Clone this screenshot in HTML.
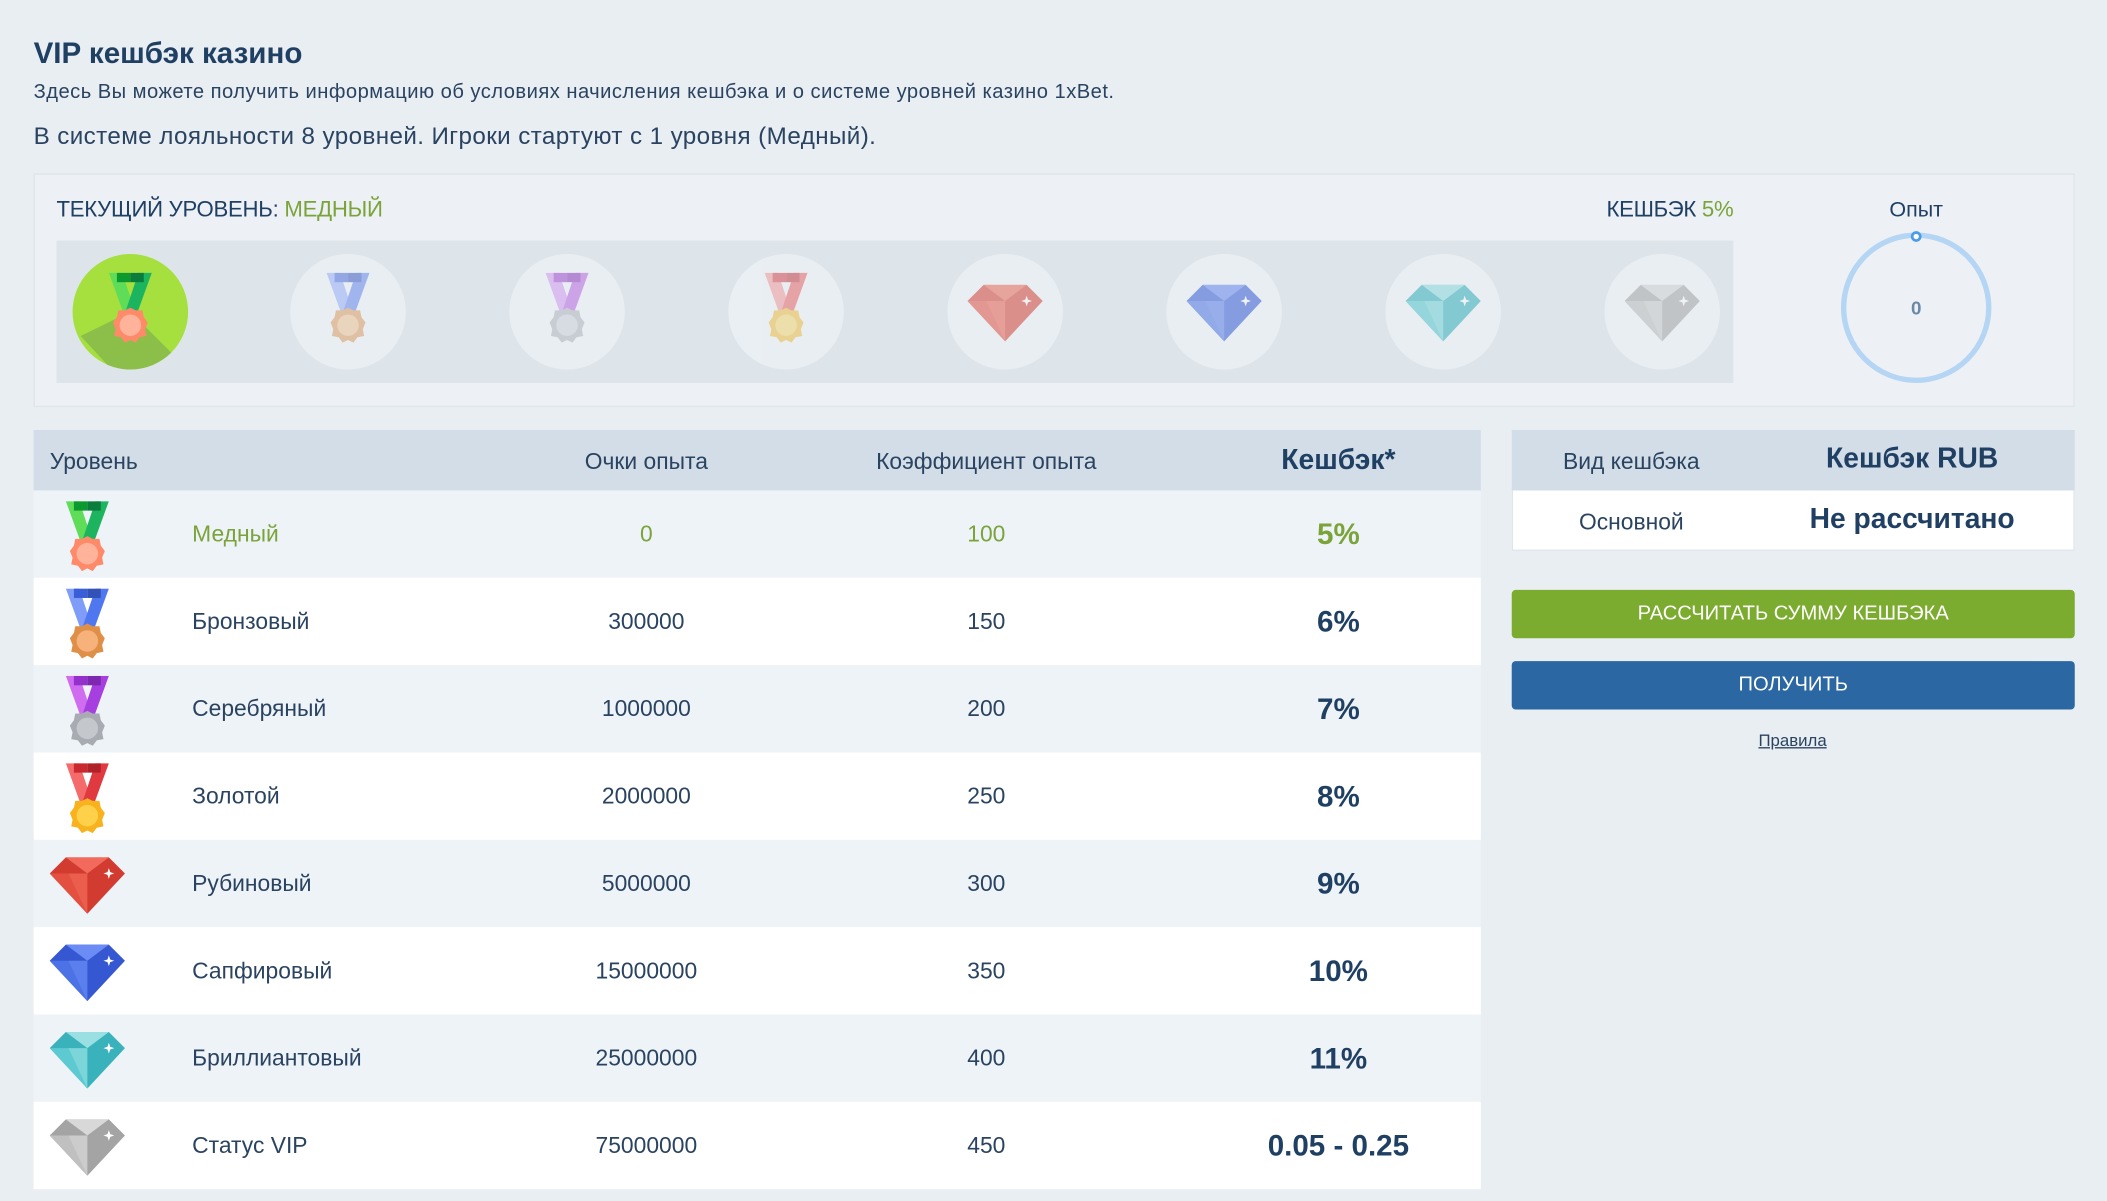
<!DOCTYPE html>
<html><head><meta charset="utf-8">
<style>
html,body{margin:0;padding:0;background:#e9eef3;}
body{width:2107px;height:1201px;overflow:hidden;}
#w{position:absolute;left:0;top:0;width:1568px;height:894px;transform:scale(1.34375);transform-origin:0 0;font-family:"Liberation Sans",sans-serif;color:#2a4360;}
.a{position:absolute;white-space:nowrap;}
.c{transform:translateX(-50%);}
.row{position:absolute;left:25px;width:1077px;height:65px;}
.row .a{top:50%;transform:translate(-50%,-50%);font-size:17px;}
.row .n{transform:translateY(-50%);}
.row .k{font-weight:bold;font-size:22px;color:#1f3f63;}
.ic{position:absolute;}
</style></head><body>
<svg width="0" height="0" style="position:absolute">
<symbol id="medal" viewBox="0 0 40 52">
<polygon points="4,0 14,0 24,30 16,33" fill="var(--r1)"/>
<polygon points="36,0 26,0 16,30 24,33" fill="var(--r2)"/>
<rect x="10" y="0" width="10" height="7" fill="var(--r3)"/><rect x="20" y="0" width="10" height="7" fill="var(--r4)"/>
<polygon points="20,26 24,28 29,28 30,33 33,37 31,42 32,47 27,48 24,52 20,50 16,52 13,48 8,47 9,42 7,37 10,33 11,28 16,28" fill="var(--m1)"/>
<circle cx="20" cy="39" r="8" fill="var(--m2)"/>
</symbol>
<symbol id="gem" viewBox="0 0 56 44">
<polygon points="0,14 12,2 44,2 56,14 28,44" fill="var(--g1)"/>
<polygon points="12,2 28,14 44,2" fill="var(--g2)"/>
<polygon points="0,14 28,14 28,44" fill="var(--g3)"/>
<polygon points="14,14 28,14 28,44" fill="var(--g2)" opacity=".5"/>
<path d="M44,10 l1,3 3,1 -3,1 -1,3 -1,-3 -3,-1 3,-1z" fill="#fff"/>
</symbol>
</svg>
<div id="w">
<div class="a" style="left:25px;top:27px;font-size:22px;font-weight:bold;color:#1f3f63;">VIP кешбэк казино</div>
<div class="a" style="left:25px;top:60px;font-size:15px;letter-spacing:0.35px;">Здесь Вы можете получить информацию об условиях начисления кешбэка и о системе уровней казино 1xBet.</div>
<div class="a" style="left:25px;top:91px;font-size:18px;letter-spacing:0.3px;">В системе лояльности 8 уровней. Игроки стартуют с 1 уровня (Медный).</div>

<div class="a" style="left:25px;top:129px;width:1517px;height:172px;background:#edf1f5;border:1px solid #dfe5ea;"></div>
<div class="a" style="left:42px;top:147px;font-size:16.5px;letter-spacing:-0.2px;color:#1f3f63;">ТЕКУЩИЙ УРОВЕНЬ: <span style="color:#7aa33a">МЕДНЫЙ</span></div>
<div class="a" style="right:278px;top:147px;font-size:16.5px;letter-spacing:-0.2px;color:#1f3f63;">КЕШБЭК <span style="color:#7aa33a">5%</span></div>
<div class="a" style="left:42px;top:179px;width:1248px;height:106px;background:#dde4ea;"></div>
<svg class="a" style="left:42px;top:179px" width="1248" height="106" viewBox="42 179 1248 106">
<defs><clipPath id="c1"><circle cx="97" cy="232" r="43"/></clipPath></defs>
<circle cx="97" cy="232" r="43" fill="#a6e03f"/>
<polygon points="97,232 140,275 97,290 60,250" fill="#8cbe4a" clip-path="url(#c1)"/>
<use href="#medal" x="77" y="203" width="40" height="52" style="--r1:#5fdc58;--r2:#1db45f;--r3:#0c9a2e;--r4:#0a7c3c;--m1:#ff8a6a;--m2:#ffb39a"/>
<g opacity="0.55">
<circle cx="259" cy="232" r="43" fill="#f4f7fa"/>
<use href="#medal" x="239" y="203" width="40" height="52" style="--r1:#9fb6ff;--r2:#6f8ff0;--r3:#5876e0;--r4:#4964c9;--m1:#e3a46a;--m2:#f4c79b"/>
<circle cx="422" cy="232" r="43" fill="#f4f7fa"/>
<use href="#medal" x="402" y="203" width="40" height="52" style="--r1:#d9a0f4;--r2:#c06ee8;--r3:#a850d6;--r4:#9442c0;--m1:#b8bcc2;--m2:#d2d6da"/>
<circle cx="585" cy="232" r="43" fill="#f4f7fa"/>
<use href="#medal" x="565" y="203" width="40" height="52" style="--r1:#f7a0a0;--r2:#ee6e70;--r3:#d94f55;--r4:#c8474c;--m1:#f4c44a;--m2:#fadb7a"/>
<circle cx="748" cy="232" r="43" fill="#f4f7fa"/>
<use href="#gem" x="720" y="210" width="56" height="44" style="--g1:#d84a3e;--g2:#f07060;--g3:#e85a4c"/>
<circle cx="911" cy="232" r="43" fill="#f4f7fa"/>
<use href="#gem" x="883" y="210" width="56" height="44" style="--g1:#3f63d8;--g2:#6d8cf2;--g3:#557be6"/>
<circle cx="1074" cy="232" r="43" fill="#f4f7fa"/>
<use href="#gem" x="1046" y="210" width="56" height="44" style="--g1:#3bb4bf;--g2:#8fdde0;--g3:#5ccbd1"/>
<circle cx="1237" cy="232" r="43" fill="#f4f7fa"/>
<use href="#gem" x="1209" y="210" width="56" height="44" style="--g1:#aaaaaa;--g2:#d6d6d6;--g3:#c0c0c0"/>
</g>
</svg>
<div class="a c" style="left:1426px;top:148px;font-size:16px;color:#1f3f63;">Опыт</div>
<svg class="a" style="left:1366px;top:170px" width="120" height="120"><circle cx="60" cy="59" r="54" fill="none" stroke="#b4d5f4" stroke-width="4"/><circle cx="60" cy="6" r="3" fill="#fff" stroke="#4a9be8" stroke-width="2"/></svg>
<div class="a c" style="left:1426px;top:221px;font-size:14px;font-weight:bold;color:#6a88a8;">0</div>

<div class="a" style="left:25px;top:320px;width:1077px;height:565px;background:#fff;border:1px solid #dfe5ea;box-sizing:border-box;"></div>
<div class="a" style="left:25px;top:320px;width:1077px;height:45px;background:#d3dde8;"></div>
<div class="a" style="left:37px;top:334px;font-size:17px;">Уровень</div>
<div class="a c" style="left:481px;top:334px;font-size:17px;">Очки опыта</div>
<div class="a c" style="left:734px;top:334px;font-size:17px;">Коэффициент опыта</div>
<div class="a c" style="left:996px;top:331px;font-size:21px;font-weight:bold;color:#1f3f63;">Кешбэк*</div>

<div class="row" style="top:365px;background:#eef3f8"><svg class="ic" style="left:20px;top:8px" width="40" height="52"><use href="#medal" width="40" height="52" style="--r1:#5fdc58;--r2:#1db45f;--r3:#0c9a2e;--r4:#0a7c3c;--m1:#ff8a6a;--m2:#ffb39a"/></svg><div class="a n" style="left:118px;color:#7aa33a">Медный</div><div class="a" style="left:456px;color:#7aa33a">0</div><div class="a" style="left:709px;color:#7aa33a">100</div><div class="a k" style="left:971px;color:#7aa33a">5%</div></div>
<div class="row" style="top:430px;background:#fff"><svg class="ic" style="left:20px;top:8px" width="40" height="52"><use href="#medal" width="40" height="52" style="--r1:#7f9cf8;--r2:#4f78f0;--r3:#3a5ed8;--r4:#3352b8;--m1:#e08f48;--m2:#f6b27a"/></svg><div class="a n" style="left:118px">Бронзовый</div><div class="a" style="left:456px">300000</div><div class="a" style="left:709px">150</div><div class="a k" style="left:971px">6%</div></div>
<div class="row" style="top:495px;background:#eef3f8"><svg class="ic" style="left:20px;top:8px" width="40" height="52"><use href="#medal" width="40" height="52" style="--r1:#cf6cf0;--r2:#a63ee0;--r3:#9430cc;--r4:#7e28b0;--m1:#a8acb2;--m2:#c4c8cc"/></svg><div class="a n" style="left:118px">Серебряный</div><div class="a" style="left:456px">1000000</div><div class="a" style="left:709px">200</div><div class="a k" style="left:971px">7%</div></div>
<div class="row" style="top:560px;background:#fff"><svg class="ic" style="left:20px;top:8px" width="40" height="52"><use href="#medal" width="40" height="52" style="--r1:#f56a6a;--r2:#e03a40;--r3:#c8282e;--r4:#b02228;--m1:#f7b21e;--m2:#ffd04a"/></svg><div class="a n" style="left:118px">Золотой</div><div class="a" style="left:456px">2000000</div><div class="a" style="left:709px">250</div><div class="a k" style="left:971px">8%</div></div>
<div class="row" style="top:625px;background:#eef3f8"><svg class="ic" style="left:12px;top:11px" width="56" height="44"><use href="#gem" width="56" height="44" style="--g1:#d23c30;--g2:#f26a5c;--g3:#e4503f"/></svg><div class="a n" style="left:118px">Рубиновый</div><div class="a" style="left:456px">5000000</div><div class="a" style="left:709px">300</div><div class="a k" style="left:971px">9%</div></div>
<div class="row" style="top:690px;background:#fff"><svg class="ic" style="left:12px;top:11px" width="56" height="44"><use href="#gem" width="56" height="44" style="--g1:#3558d2;--g2:#6a8cf4;--g3:#4c72e6"/></svg><div class="a n" style="left:118px">Сапфировый</div><div class="a" style="left:456px">15000000</div><div class="a" style="left:709px">350</div><div class="a k" style="left:971px">10%</div></div>
<div class="row" style="top:755px;background:#eef3f8"><svg class="ic" style="left:12px;top:11px" width="56" height="44"><use href="#gem" width="56" height="44" style="--g1:#3ab2bc;--g2:#9ae0e2;--g3:#5ccad0"/></svg><div class="a n" style="left:118px">Бриллиантовый</div><div class="a" style="left:456px">25000000</div><div class="a" style="left:709px">400</div><div class="a k" style="left:971px">11%</div></div>
<div class="row" style="top:820px;background:#fff"><svg class="ic" style="left:12px;top:11px" width="56" height="44"><use href="#gem" width="56" height="44" style="--g1:#a4a4a4;--g2:#d8d8d8;--g3:#c0c0c0"/></svg><div class="a n" style="left:118px">Статус VIP</div><div class="a" style="left:456px">75000000</div><div class="a" style="left:709px">450</div><div class="a k" style="left:971px">0.05 - 0.25</div></div>

<div class="a" style="left:1125px;top:320px;width:419px;height:90px;background:#fff;border:1px solid #dfe5ea;box-sizing:border-box;"></div>
<div class="a" style="left:1125px;top:320px;width:419px;height:45px;background:#d3dde8;"></div>
<div class="a c" style="left:1214px;top:334px;font-size:17px;">Вид кешбэка</div>
<div class="a c" style="left:1423px;top:330px;font-size:21px;font-weight:bold;color:#1f3f63;">Кешбэк RUB</div>
<div class="a c" style="left:1214px;top:379px;font-size:17px;">Основной</div>
<div class="a c" style="left:1423px;top:375px;font-size:21px;font-weight:bold;color:#1f3f63;">Не рассчитано</div>
<div class="a" style="left:1125px;top:439px;width:419px;height:36px;background:#7bac2f;border-radius:3px;color:#fff;font-size:15px;text-align:center;line-height:36px;">РАССЧИТАТЬ СУММУ КЕШБЭКА</div>
<div class="a" style="left:1125px;top:492px;width:419px;height:36px;background:#2a67a3;border-radius:3px;color:#fff;font-size:15px;text-align:center;line-height:36px;">ПОЛУЧИТЬ</div>
<div class="a c" style="left:1334px;top:544px;font-size:12.5px;text-decoration:underline;color:#2a4360;">Правила</div>
</div>
</body></html>
